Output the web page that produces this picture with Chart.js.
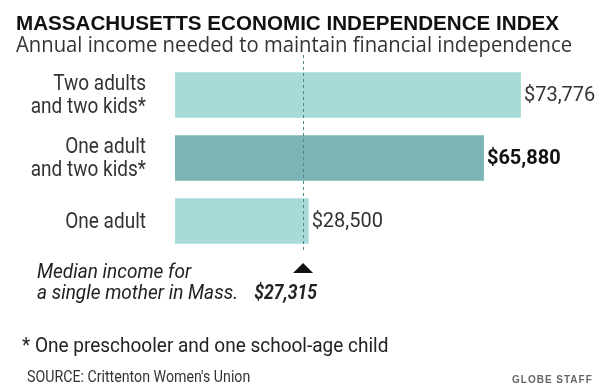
<!DOCTYPE html>
<html>
<head>
<meta charset="utf-8">
<script src="https://cdn.jsdelivr.net/npm/chart.js@4"></script>
<style>
html,body{margin:0;padding:0;background:#fff;}
#wrap{position:relative;width:608px;height:388px;}
</style>
</head>
<body>
<div id="wrap"><canvas id="c" width="608" height="388"></canvas></div>
<script>
const title = "MASSACHUSETTS ECONOMIC INDEPENDENCE INDEX";
const subtitle = "Annual income needed to maintain financial independence";
const categories = [["Two adults","and two kids*"],["One adult","and two kids*"],["One adult"]];
const values = [73776, 65880, 28500];
const valueLabels = ["$73,776","$65,880","$28,500"];
const medianValue = 27315;
const medianLabel = "$27,315";
const medianText = ["Median income for","a single mother in Mass."];
const footnote = "* One preschooler and one school-age child";
const source = "SOURCE: Crittenton Women's Union";
const credit = "GLOBE STAFF";

const LIGHT = "#a7dad8", DARK = "#7ab4b5";
const SANS = "Roboto,'Liberation Sans',sans-serif";

function txt(ctx, s, x, y, font, sx, align) {
  ctx.save();
  ctx.font = font;
  ctx.translate(x, y);
  ctx.scale(sx, 1);
  ctx.textAlign = align || "left";
  ctx.fillText(s, 0, 0);
  ctx.restore();
}

const overlay = {
  id: 'overlay',
  afterDatasetsDraw(chart) {
    const ctx = chart.ctx;
    const xs = chart.scales.x, ys = chart.scales.y;
    ctx.save();
    ctx.textBaseline = "alphabetic";
    // title
    ctx.fillStyle = "#111";
    txt(ctx, title, 16, 30, "bold 21px 'Liberation Sans',Arial,sans-serif", 0.982);
    ctx.fillStyle = "#333";
    txt(ctx, subtitle, 16, 52, "21px 'Open Sans','Liberation Sans',sans-serif", 0.965);

    // dashed median line
    const mx = xs.getPixelForValue(medianValue);
    ctx.strokeStyle = "#4f8488";
    ctx.lineWidth = 1;
    ctx.setLineDash([3,3]);
    ctx.beginPath();
    ctx.moveTo(Math.round(mx)+0.5, 55);
    ctx.lineTo(Math.round(mx)+0.5, 252);
    ctx.stroke();
    ctx.setLineDash([]);
    // triangle
    ctx.fillStyle = "#111";
    ctx.beginPath();
    ctx.moveTo(mx, 263);
    ctx.lineTo(mx+10, 273);
    ctx.lineTo(mx-10, 273);
    ctx.closePath();
    ctx.fill();

    // category labels
    ctx.fillStyle = "#333";
    ctx.textBaseline = "middle";
    categories.forEach((lines, i) => {
      const cy = ys.getPixelForValue(i);
      const lh = 23;
      const start = cy - (lines.length - 1) * lh / 2;
      lines.forEach((t, j) => txt(ctx, t, 146, start + j * lh + 1, "22.5px " + SANS, 0.845, "right"));
    });

    // value labels
    values.forEach((v, i) => {
      const px = xs.getPixelForValue(v);
      const cy = ys.getPixelForValue(i);
      ctx.fillStyle = i === 1 ? "#111" : "#333";
      txt(ctx, valueLabels[i], px + 3, cy + 1, (i === 1 ? "bold " : "") + "20px " + SANS, 1);
    });

    // median annotation
    ctx.textBaseline = "alphabetic";
    ctx.fillStyle = "#222";
    txt(ctx, medianText[0], 37, 278, "italic 21px " + SANS, 0.905);
    txt(ctx, medianText[1], 37, 299, "italic 21px " + SANS, 0.905);
    txt(ctx, medianLabel, mx + 14, 299, "italic bold 19.5px " + SANS, 0.9, "right");

    // footnotes
    ctx.fillStyle = "#222";
    txt(ctx, footnote, 22, 352, "21px " + SANS, 0.905);
    ctx.fillStyle = "#333";
    txt(ctx, source, 27, 382, "17px " + SANS, 0.835);
    ctx.font = "bold 10px 'Liberation Sans',sans-serif";
    ctx.fillStyle = "#666";
    ctx.letterSpacing = "1px";
    ctx.textAlign = "left";
    ctx.fillText(credit, 512, 383);
    ctx.restore();
  }
};

new Chart(document.getElementById('c'), {
  type: 'bar',
  data: {
    labels: categories,
    datasets: [{
      data: values,
      backgroundColor: values.map((v, i) => i === 1 ? DARK : LIGHT),
      borderWidth: 0,
      barPercentage: 0.72,
      categoryPercentage: 1.0
    }]
  },
  options: {
    indexAxis: 'y',
    responsive: false,
    animation: false,
    events: [],
    layout: { padding: { left: 175, right: 11, top: 63.5, bottom: 135.5 } },
    plugins: { legend: { display: false }, tooltip: { enabled: false } },
    scales: {
      x: { display: false, min: 0, max: 90000 },
      y: { display: false }
    }
  },
  plugins: [overlay]
});
</script>
</body>
</html>
